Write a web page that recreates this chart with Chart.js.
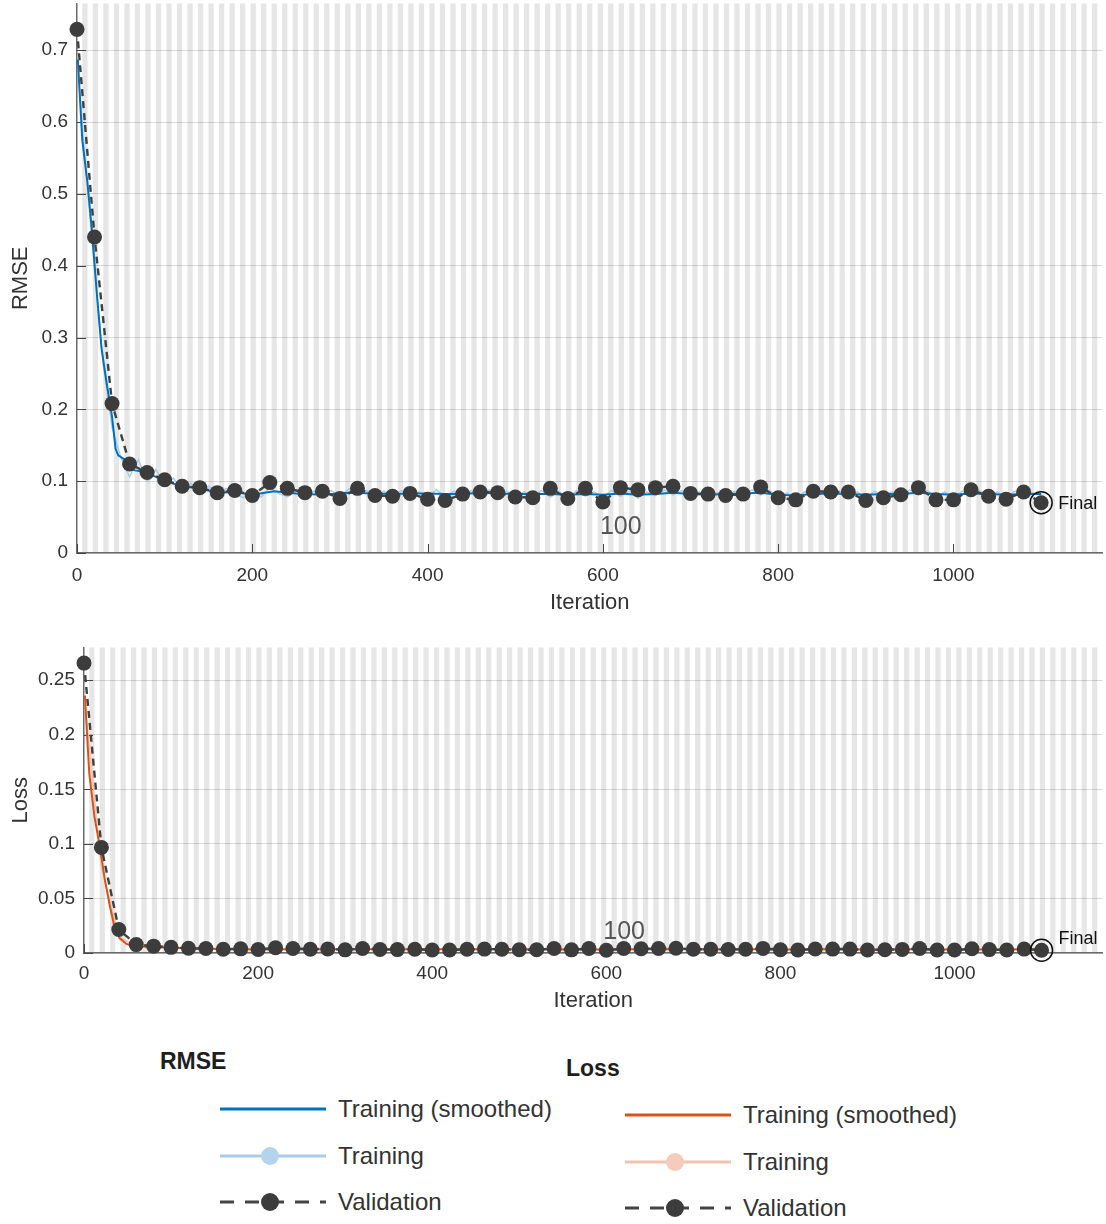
<!DOCTYPE html>
<html>
<head>
<meta charset="utf-8">
<title>Training Progress</title>
<script src="https://cdn.jsdelivr.net/npm/chart.js@4.4.0/dist/chart.umd.min.js"></script>
<style>
  body { margin: 0; background: #fff; width: 1106px; height: 1224px; position: relative; overflow: hidden;
         font-family: "Liberation Sans", Arial, sans-serif; }
  canvas { position: absolute; left: 0; }
  #rmse-chart { top: -4px; }
  #loss-chart { top: 640px; }
  .legend-title { position: absolute; font-weight: bold; font-size: 23px; color: #1e1e1e; line-height: 26px; }
  .legend-row { position: absolute; height: 30px; display: flex; align-items: center; }
  .legend-row svg { margin-right: 10px; }
  .legend-row span { font-size: 24px; color: #333; }
</style>
</head>
<body>
<canvas id="rmse-chart" width="1110" height="622"></canvas>
<canvas id="loss-chart" width="1110" height="378"></canvas>

<div class="legend-title" style="left:160px; top:1048px;">RMSE</div>
<div class="legend-row" style="left:218px; top:1094px;">
  <svg width="110" height="24"><line x1="2" y1="12" x2="108" y2="12" stroke="#0072bd" stroke-width="3"/></svg>
  <span>Training (smoothed)</span>
</div>
<div class="legend-row" style="left:218px; top:1141px;">
  <svg width="110" height="24"><line x1="2" y1="12" x2="108" y2="12" stroke="#a9cde9" stroke-width="3"/><circle cx="52" cy="12" r="9" fill="#b3d4ec"/></svg>
  <span>Training</span>
</div>
<div class="legend-row" style="left:218px; top:1187px;">
  <svg width="110" height="24"><line x1="2" y1="12" x2="108" y2="12" stroke="#444" stroke-width="3" stroke-dasharray="14 11"/><circle cx="52" cy="12" r="9" fill="#3c3c3c"/></svg>
  <span>Validation</span>
</div>

<div class="legend-title" style="left:566px; top:1055px;">Loss</div>
<div class="legend-row" style="left:623px; top:1100px;">
  <svg width="110" height="24"><line x1="2" y1="12" x2="108" y2="12" stroke="#d95319" stroke-width="3"/></svg>
  <span>Training (smoothed)</span>
</div>
<div class="legend-row" style="left:623px; top:1147px;">
  <svg width="110" height="24"><line x1="2" y1="12" x2="108" y2="12" stroke="#f2c3af" stroke-width="3"/><circle cx="52" cy="12" r="9" fill="#f5cbbb"/></svg>
  <span>Training</span>
</div>
<div class="legend-row" style="left:623px; top:1193px;">
  <svg width="110" height="24"><line x1="2" y1="12" x2="108" y2="12" stroke="#444" stroke-width="3" stroke-dasharray="14 11"/><circle cx="52" cy="12" r="9" fill="#3c3c3c"/></svg>
  <span>Validation</span>
</div>

<script>
// ---- data ----
var iterationsPerEpoch = 6;
var maxIteration = 1170;
var epochMarkIteration = 600;
var epochMarkText = '100';

var iterationTicks = [0, 200, 400, 600, 800, 1000];
var rmseTicks = [0, 0.1, 0.2, 0.3, 0.4, 0.5, 0.6, 0.7];
var lossTicks = [0, 0.05, 0.1, 0.15, 0.2, 0.25];

// validation is evaluated every 20 iterations
var valIterations = [0,20,40,60,80,100,120,140,160,180,200,220,240,260,280,300,320,340,360,380,400,420,440,460,480,500,520,540,560,580,600,620,640,660,680,700,720,740,760,780,800,820,840,860,880,900,920,940,960,980,1000,1020,1040,1060,1080,1100];
var rmseValidation = [0.729,0.440,0.208,0.124,0.112,0.102,0.093,0.091,0.084,0.087,0.080,0.098,0.090,0.084,0.086,0.076,0.090,0.080,0.079,0.083,0.075,0.073,0.082,0.085,0.084,0.078,0.077,0.090,0.076,0.090,0.071,0.091,0.088,0.091,0.093,0.083,0.082,0.080,0.082,0.092,0.077,0.074,0.086,0.085,0.085,0.073,0.077,0.081,0.091,0.074,0.074,0.088,0.079,0.075,0.085,0.070];
var lossValidation = [0.2657,0.0968,0.0216,0.0077,0.0063,0.0052,0.0043,0.0041,0.0035,0.0038,0.0032,0.0048,0.0041,0.0035,0.0037,0.0029,0.0041,0.0032,0.0031,0.0034,0.0028,0.0027,0.0034,0.0036,0.0035,0.0030,0.0030,0.0041,0.0029,0.0041,0.0025,0.0041,0.0039,0.0041,0.0043,0.0034,0.0034,0.0032,0.0034,0.0042,0.0030,0.0027,0.0037,0.0036,0.0036,0.0027,0.0030,0.0033,0.0041,0.0027,0.0027,0.0039,0.0031,0.0028,0.0036,0.0025];

// raw training RMSE, every 10 iterations
var rawIterations = [0,10,20,30,40,50,60,70,80,90,100,110,120,130,140,150,160,170,180,190,200,210,220,230,240,250,260,270,280,290,300,310,320,330,340,350,360,370,380,390,400,410,420,430,440,450,460,470,480,490,500,510,520,530,540,550,560,570,580,590,600,610,620,630,640,650,660,670,680,690,700,710,720,730,740,750,760,770,780,790,800,810,820,830,840,850,860,870,880,890,900,910,920,930,940,950,960,970,980,990,1000,1010,1020,1030,1040,1050,1060,1070,1080,1090,1100];
var rmseTraining = [0.690,0.535,0.395,0.262,0.175,0.133,0.106,0.130,0.100,0.116,0.095,0.104,0.089,0.097,0.085,0.093,0.080,0.090,0.082,0.077,0.087,0.078,0.091,0.083,0.078,0.088,0.077,0.086,0.078,0.087,0.079,0.089,0.080,0.087,0.078,0.086,0.079,0.087,0.080,0.085,0.078,0.088,0.079,0.086,0.077,0.087,0.081,0.088,0.079,0.086,0.078,0.085,0.079,0.087,0.078,0.086,0.075,0.087,0.079,0.085,0.077,0.087,0.079,0.086,0.076,0.085,0.080,0.088,0.081,0.087,0.078,0.085,0.077,0.084,0.079,0.086,0.080,0.088,0.081,0.087,0.077,0.084,0.076,0.085,0.079,0.087,0.080,0.086,0.078,0.085,0.077,0.086,0.079,0.085,0.078,0.088,0.081,0.087,0.078,0.085,0.077,0.086,0.080,0.087,0.078,0.085,0.077,0.086,0.079,0.084,0.081];

// smoothed training RMSE
var rmseSmoothIterations = [1,6,12,17,23,28,34,40,44,47,56,60,66,76,90,102,118,140,160,180,200,225,250,280,310,340,360,380,400,420,440,460,480,500,520,540,560,580,600,620,640,660,680,700,720,740,760,780,800,820,840,860,880,900,920,940,960,980,1000,1020,1040,1060,1080,1100];
var rmseSmoothed = [0.687,0.575,0.515,0.449,0.356,0.285,0.235,0.190,0.145,0.136,0.129,0.118,0.115,0.113,0.106,0.100,0.093,0.090,0.084,0.085,0.081,0.086,0.083,0.081,0.084,0.083,0.082,0.083,0.083,0.082,0.082,0.084,0.083,0.082,0.082,0.082,0.081,0.082,0.081,0.083,0.081,0.082,0.084,0.082,0.081,0.082,0.083,0.084,0.081,0.080,0.082,0.083,0.082,0.081,0.082,0.082,0.084,0.082,0.081,0.083,0.082,0.081,0.082,0.082];

// raw training loss, every 20 iterations
var lossTraining = [0.238,0.078,0.0150,0.0061,0.0054,0.0047,0.0040,0.0037,0.0033,0.0035,0.0037,0.0041,0.0032,0.0030,0.0036,0.0031,0.0037,0.0031,0.0036,0.0033,0.0031,0.0037,0.0030,0.0036,0.0032,0.0035,0.0031,0.0036,0.0029,0.0035,0.0031,0.0036,0.0030,0.0035,0.0037,0.0032,0.0031,0.0035,0.0033,0.0037,0.0031,0.0030,0.0036,0.0033,0.0035,0.0030,0.0034,0.0032,0.0037,0.0031,0.0030,0.0036,0.0032,0.0031,0.0035,0.0033];

// smoothed training loss
var lossSmoothIterations = [1,6,12,18,24,30,35,41,49,56,64,80,100,120,140,160,200,250,300,350,400,450,500,550,600,650,700,750,800,850,900,950,1000,1050,1100];
var lossSmoothed = [0.236,0.165,0.125,0.098,0.067,0.042,0.024,0.0134,0.0082,0.0066,0.0060,0.0055,0.0049,0.0043,0.0040,0.0036,0.0033,0.0034,0.0034,0.0034,0.0034,0.0035,0.0034,0.0033,0.0033,0.0034,0.0034,0.0034,0.0033,0.0034,0.0033,0.0034,0.0033,0.0033,0.0034];

var FONT = '"Liberation Sans", Arial, sans-serif';
var TEXT = '#333333';

function pairs(xs, ys) {
  return xs.map(function (x, i) { return { x: x, y: ys[i] }; });
}

function fixedTicks(values) {
  return function (scale) {
    scale.ticks = values.map(function (v) { return { value: v }; });
  };
}

// alternating epoch shading behind the plot
var epochStripes = {
  id: 'epochStripes',
  beforeDraw: function (chart) {
    var area = chart.chartArea, xs = chart.scales.x, ctx = chart.ctx;
    ctx.save();
    ctx.fillStyle = '#e6e6e6';
    for (var e = 2; (e - 1) * iterationsPerEpoch < xs.max; e += 2) {
      var x0 = xs.getPixelForValue((e - 1) * iterationsPerEpoch);
      var x1 = Math.min(xs.getPixelForValue(e * iterationsPerEpoch), area.right);
      ctx.fillRect(x0, area.top, x1 - x0, area.bottom - area.top);
    }
    ctx.restore();
  }
};

// tick marks pointing into the plot
var innerTicks = {
  id: 'innerTicks',
  beforeDatasetsDraw: function (chart) {
    var area = chart.chartArea, ctx = chart.ctx;
    ctx.save();
    ctx.strokeStyle = '#444';
    ctx.lineWidth = 1;
    chart.scales.y.ticks.forEach(function (t) {
      var y = Math.round(chart.scales.y.getPixelForValue(t.value)) + 0.5;
      ctx.beginPath(); ctx.moveTo(area.left, y); ctx.lineTo(area.left + 9, y); ctx.stroke();
    });
    chart.scales.x.ticks.forEach(function (t) {
      var x = Math.round(chart.scales.x.getPixelForValue(t.value)) + 0.5;
      ctx.beginPath(); ctx.moveTo(x, area.bottom); ctx.lineTo(x, area.bottom - 9); ctx.stroke();
    });
    ctx.restore();
  }
};

// epoch number and the ringed final validation point
var progressMarks = {
  id: 'progressMarks',
  afterDatasetsDraw: function (chart, args, opts) {
    var ctx = chart.ctx, area = chart.chartArea;
    ctx.save();
    ctx.font = '25px ' + FONT;
    ctx.fillStyle = '#555';
    ctx.textAlign = 'left';
    ctx.textBaseline = 'middle';
    ctx.fillText(epochMarkText, chart.scales.x.getPixelForValue(epochMarkIteration) - 3, area.bottom - opts.epochLift);

    var meta = chart.getDatasetMeta(0);
    var last = meta.data[meta.data.length - 1];
    ctx.strokeStyle = '#111';
    ctx.lineWidth = 1.5;
    ctx.beginPath();
    ctx.arc(last.x, last.y, 11, 0, Math.PI * 2);
    ctx.stroke();
    ctx.font = '18px ' + FONT;
    ctx.fillStyle = '#111';
    ctx.fillText('Final', last.x + 17, last.y + opts.finalShift);
    ctx.restore();
  }
};

function makeChart(id, cfg) {
  return new Chart(document.getElementById(id), {
    type: 'line',
    data: {
      datasets: [
        {
          label: 'Validation',
          data: pairs(valIterations, cfg.validation),
          borderColor: '#404040',
          borderWidth: 2.4,
          borderDash: [7, 5],
          pointRadius: 7.5,
          pointBorderWidth: 0,
          pointBackgroundColor: '#3c3c3c',
          clip: false,
          order: 1
        },
        {
          label: 'Training (smoothed)',
          data: pairs(cfg.smoothIterations, cfg.smoothed),
          borderColor: cfg.color,
          borderWidth: 2,
          pointRadius: 0,
          order: 2
        },
        {
          label: 'Training',
          data: pairs(cfg.rawIterations, cfg.raw),
          borderColor: cfg.lightColor,
          borderWidth: 1.5,
          pointRadius: 0,
          order: 3
        }
      ]
    },
    options: {
      responsive: false,
      devicePixelRatio: 1,
      animation: false,
      events: [],
      layout: { padding: cfg.padding },
      elements: { line: { tension: 0 } },
      plugins: {
        legend: { display: false },
        tooltip: { enabled: false },
        progressMarks: { epochLift: cfg.epochLift, finalShift: cfg.finalShift }
      },
      scales: {
        x: {
          type: 'linear',
          min: 0,
          max: maxIteration,
          afterBuildTicks: fixedTicks(iterationTicks),
          afterFit: function (s) { s.height = cfg.xHeight; s.paddingLeft = 0; s.paddingRight = 0; },
          grid: { display: false },
          border: { display: true, color: '#6a6a6a', width: 1.5 },
          ticks: {
            maxRotation: 0,
            autoSkip: false,
            padding: cfg.xTickPad,
            color: TEXT,
            font: { family: FONT, size: 19 },
            callback: function (v) { return String(v); }
          },
          title: {
            display: true,
            text: 'Iteration',
            color: TEXT,
            font: { family: FONT, size: 22 },
            padding: { top: 0, bottom: cfg.xTitlePad }
          }
        },
        y: {
          min: 0,
          max: cfg.yMax,
          afterBuildTicks: fixedTicks(cfg.yTicks),
          afterFit: function (s) { s.width = cfg.yWidth; s.paddingTop = 0; s.paddingBottom = 0; },
          grid: { color: 'rgba(0,0,0,0.14)', drawTicks: false, lineWidth: 1 },
          border: { display: true, color: '#6a6a6a', width: 1.5 },
          ticks: {
            autoSkip: false,
            padding: 9,
            color: TEXT,
            font: { family: FONT, size: 19 },
            callback: function (v) { return String(Number(v.toFixed(3))); }
          },
          title: {
            display: true,
            text: cfg.yTitle,
            color: TEXT,
            font: { family: FONT, size: 22 },
            padding: { top: 8, bottom: 0 }
          }
        }
      }
    },
    plugins: [epochStripes, innerTicks, progressMarks]
  });
}

var rmseChart = makeChart('rmse-chart', {
  validation: rmseValidation,
  smoothIterations: rmseSmoothIterations, smoothed: rmseSmoothed,
  rawIterations: rawIterations, raw: rmseTraining,
  color: '#0072bd', lightColor: '#a9cde9',
  yMax: 0.765, yTicks: rmseTicks, yTitle: 'RMSE',
  padding: { top: 0, right: 0, bottom: 0, left: 0 },
  yWidth: 77, xHeight: 65, xTickPad: 3, xTitlePad: 2,
  epochLift: 26, finalShift: 1
});

var lossChart = makeChart('loss-chart', {
  validation: lossValidation,
  smoothIterations: lossSmoothIterations, smoothed: lossSmoothed,
  rawIterations: valIterations, raw: lossTraining,
  color: '#d95319', lightColor: '#f2c3af',
  yMax: 0.28, yTicks: lossTicks, yTitle: 'Loss',
  padding: { top: 7, right: 0, bottom: 0, left: 0 },
  yWidth: 84, xHeight: 65, xTickPad: 1, xTitlePad: 4,
  epochLift: 21, finalShift: -11
});
</script>
</body>
</html>
